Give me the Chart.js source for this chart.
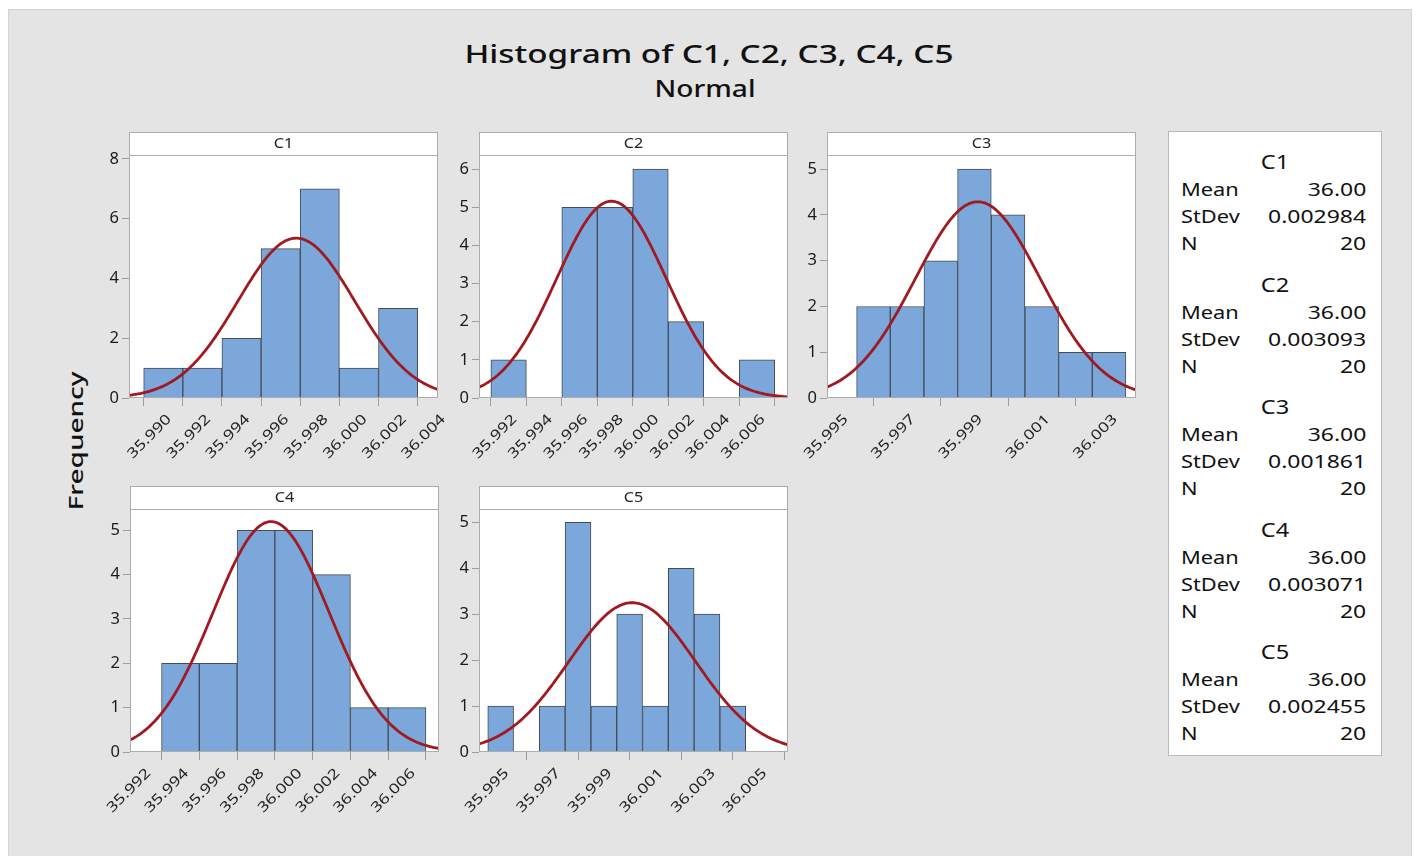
<!DOCTYPE html>
<html>
<head>
<meta charset="utf-8">
<title>Histogram of C1, C2, C3, C4, C5</title>
<script src="https://cdn.jsdelivr.net/npm/chart.js@4.4.1/dist/chart.umd.min.js"></script>
<style>
  html, body { margin: 0; padding: 0; background: #ffffff; width: 1416px; height: 856px; overflow: hidden;
    font-family: 'Noto Sans', 'Open Sans', sans-serif; color: #111; }
  #frame { position: absolute; left: 8px; top: 9px; width: 1402px; height: 860px; background: #e4e4e4; border: 1px solid #d3d3d3; }
  .panel { position: absolute; }
  #title { position: absolute; left: 0; width: 1418px; top: 35px; text-align: center; font-size: 26px; font-weight: 500;
    transform: scaleX(1.28); transform-origin: 709px 0; white-space: nowrap; }
  #subtitle { position: absolute; left: 0; width: 1410px; top: 72px; text-align: center; font-size: 23px; font-weight: 500;
    transform: scaleX(1.22); transform-origin: 705px 0; }
  #ylab { position: absolute; left: 0px; top: 421px; width: 150px; text-align: center; font-size: 28px; font-weight: 500;
    transform: rotate(-90deg) scaleY(0.72); transform-origin: 75px 20px; line-height: 40px; white-space: nowrap; }
  #stats { position: absolute; left: 1168px; top: 131px; width: 212px; height: 623px; background: #fff; border: 1px solid #b9b9b9; }
  .sh { position: absolute; left: 0; width: 212px; text-align: center; font-size: 20.5px; line-height: 24px;
    transform: scaleX(1.15); transform-origin: 106px 0; }
  .sl { position: absolute; left: 12px; font-size: 18.5px; line-height: 24px; transform: scaleX(1.18); transform-origin: 0 0; }
  .sv { position: absolute; right: 15px; font-size: 18.5px; line-height: 24px; text-align: right;
    transform: scaleX(1.24); transform-origin: 100% 0; }
</style>
</head>
<body>
<div id="frame"></div>
<div id="title">Histogram of C1, C2, C3, C4, C5</div>
<div id="subtitle">Normal</div>
<div id="ylab">Frequency</div>
<canvas id="p1" class="panel" width="368" height="349" style="left:84px;top:129px"></canvas>
<canvas id="p2" class="panel" width="368" height="349" style="left:434px;top:129px"></canvas>
<canvas id="p3" class="panel" width="368" height="349" style="left:782px;top:129px"></canvas>
<canvas id="p4" class="panel" width="368" height="349" style="left:85px;top:483px"></canvas>
<canvas id="p5" class="panel" width="368" height="349" style="left:434px;top:483px"></canvas>
<div id="stats"></div>
<script>
// ---- data ----
const seriesNames = ['C1', 'C2', 'C3', 'C4', 'C5'];

// histogram bin midpoints and counts
const c1Bins = [35.990, 35.992, 35.994, 35.996, 35.998, 36.000, 36.002];
const c1Counts = [1, 1, 2, 5, 7, 1, 3];
const c2Bins = [35.992, 35.994, 35.996, 35.998, 36.000, 36.002, 36.004, 36.006];
const c2Counts = [1, 0, 5, 5, 6, 2, 0, 1];
const c3Bins = [35.996, 35.997, 35.998, 35.999, 36.000, 36.001, 36.002, 36.003];
const c3Counts = [2, 2, 3, 5, 4, 2, 1, 1];
const c4Bins = [35.994, 35.996, 35.998, 36.000, 36.002, 36.004, 36.006];
const c4Counts = [2, 2, 5, 5, 4, 1, 1];
const c5Bins = [35.995, 35.996, 35.997, 35.998, 35.999, 36.000, 36.001, 36.002, 36.003, 36.004];
const c5Counts = [1, 0, 1, 5, 1, 3, 1, 4, 3, 1];
const binWidths = [0.002, 0.002, 0.001, 0.002, 0.001];

// fitted normal parameters
const means = [35.9968, 35.9978, 35.9991, 35.9988, 36.0001];
const stdevs = [0.002984, 0.003093, 0.001861, 0.003071, 0.002455];
const counts = [20, 20, 20, 20, 20];
const meanLabels = ['36.00', '36.00', '36.00', '36.00', '36.00'];
const stdevLabels = ['0.002984', '0.003093', '0.001861', '0.003071', '0.002455'];

// tick values
const c1XTicks = [35.990, 35.992, 35.994, 35.996, 35.998, 36.000, 36.002, 36.004];
const c2XTicks = [35.992, 35.994, 35.996, 35.998, 36.000, 36.002, 36.004, 36.006];
const c3XTicks = [35.995, 35.997, 35.999, 36.001, 36.003];
const c4XTicks = [35.992, 35.994, 35.996, 35.998, 36.000, 36.002, 36.004, 36.006];
const c5XTicks = [35.995, 35.997, 35.999, 36.001, 36.003, 36.005];
const c1YTicks = [0, 2, 4, 6, 8];
const c2YTicks = [0, 1, 2, 3, 4, 5, 6];
const c3YTicks = [0, 1, 2, 3, 4, 5];
const c4YTicks = [0, 1, 2, 3, 4, 5];
const c5YTicks = [0, 1, 2, 3, 4, 5];

// ---- panel setup ----
const panels = [
  { id: 'p1', bins: c1Bins, freq: c1Counts, xTicks: c1XTicks, yTicks: c1YTicks, xMin: 35.98825, xMax: 36.00404, yMax: 8.13 },
  { id: 'p2', bins: c2Bins, freq: c2Counts, xTicks: c2XTicks, yTicks: c2YTicks, xMin: 35.99033, xMax: 36.00775, yMax: 6.37 },
  { id: 'p3', bins: c3Bins, freq: c3Counts, xTicks: c3XTicks, yTicks: c3YTicks, xMin: 35.99462, xMax: 36.00380, yMax: 5.31 },
  { id: 'p4', bins: c4Bins, freq: c4Counts, xTicks: c4XTicks, yTicks: c4YTicks, xMin: 35.99133, xMax: 36.00769, yMax: 5.48 },
  { id: 'p5', bins: c5Bins, freq: c5Counts, xTicks: c5XTicks, yTicks: c5YTicks, xMin: 35.99416, xMax: 36.00614, yMax: 5.29 }
];

const FONT = "'Noto Sans', 'Open Sans', sans-serif";

// white plot area, frame, title strip and slanted x labels
const panelDecor = {
  id: 'panelDecor',
  beforeDraw(chart) {
    const { ctx, chartArea: a } = chart;
    ctx.save();
    ctx.fillStyle = '#ffffff';
    ctx.fillRect(a.left, a.top, a.right - a.left, a.bottom - a.top);
    ctx.restore();
  },
  afterDraw(chart, args, opts) {
    const { ctx, chartArea: a } = chart;
    ctx.save();
    ctx.strokeStyle = '#acacac';
    ctx.lineWidth = 1;
    ctx.strokeRect(a.left + 0.5, a.top + 0.5, a.right - a.left - 1, a.bottom - a.top - 1);
    ctx.fillStyle = '#ffffff';
    ctx.fillRect(a.left, a.top - 23, a.right - a.left, 23);
    ctx.strokeRect(a.left + 0.5, a.top - 22.5, a.right - a.left - 1, 23);

    ctx.fillStyle = '#222';
    ctx.font = '13.5px ' + FONT;
    ctx.textAlign = 'center';
    ctx.textBaseline = 'middle';
    ctx.save();
    ctx.translate((a.left + a.right) / 2, a.top - 11);
    ctx.scale(1.2, 1);
    ctx.fillText(opts.name, 0, 0);
    ctx.restore();

    const xs = chart.scales.x;
    ctx.font = '14px ' + FONT;
    ctx.fillStyle = '#222';
    ctx.textAlign = 'right';
    ctx.textBaseline = 'middle';
    opts.ticks.forEach(v => {
      const px = xs.getPixelForValue(v);
      ctx.save();
      ctx.translate(px + 6, a.bottom + 19);
      ctx.rotate(-Math.PI / 4);
      ctx.scale(1.27, 1);
      ctx.fillText(v.toFixed(3), 0, 0);
      ctx.restore();
    });
    ctx.restore();
  }
};

// fitted normal density scaled to counts per bin
function normalCurve(i, xMin, xMax) {
  const pts = [];
  const steps = 200;
  const scale = counts[i] * binWidths[i] / (stdevs[i] * Math.sqrt(2 * Math.PI));
  for (let k = 0; k <= steps; k++) {
    const x = xMin + (xMax - xMin) * k / steps;
    const z = (x - means[i]) / stdevs[i];
    pts.push({ x: x, y: scale * Math.exp(-0.5 * z * z) });
  }
  return pts;
}

panels.forEach((p, i) => {
  new Chart(document.getElementById(p.id), {
    type: 'bar',
    data: {
      datasets: [
        {
          type: 'line',
          data: normalCurve(i, p.xMin, p.xMax),
          borderColor: '#a11a1f',
          borderWidth: 2.8,
          pointRadius: 0,
          tension: 0,
          order: 0
        },
        {
          type: 'bar',
          data: p.bins.map((b, k) => ({ x: b, y: p.freq[k] })),
          backgroundColor: '#7ba7da',
          borderColor: '#464b55',
          borderWidth: ctx => (ctx.raw && ctx.raw.y > 0 ? 1 : 0),
          barPercentage: 1,
          categoryPercentage: 1,
          grouped: false,
          order: 1
        }
      ]
    },
    options: {
      responsive: false,
      devicePixelRatio: 1,
      animation: false,
      events: [],
      layout: { padding: { top: 26, right: 14, left: 0, bottom: 0 } },
      plugins: {
        legend: { display: false },
        tooltip: { enabled: false },
        panelDecor: { name: seriesNames[i], ticks: p.xTicks }
      },
      scales: {
        x: {
          type: 'linear',
          min: p.xMin,
          max: p.xMax,
          offset: false,
          afterBuildTicks: s => { s.ticks = p.xTicks.map(v => ({ value: v })); },
          afterFit: s => { s.height = 80; s.paddingLeft = 0; s.paddingRight = 0; },
          ticks: { display: false, autoSkip: false },
          grid: { display: true, drawOnChartArea: false, drawTicks: true, tickLength: 8, color: '#9c9c9c' },
          border: { display: false }
        },
        y: {
          min: 0,
          max: p.yMax,
          afterBuildTicks: s => { s.ticks = p.yTicks.map(v => ({ value: v })); },
          afterFit: s => { s.width = 45; s.paddingTop = 0; s.paddingBottom = 0; },
          ticks: { color: '#1a1a1a', font: { family: FONT, size: 16.5 }, padding: 3 },
          grid: { display: true, drawOnChartArea: false, drawTicks: true, tickLength: 7, color: '#9c9c9c' },
          border: { display: false }
        }
      }
    },
    plugins: [panelDecor]
  });
});

// statistics box
const stats = document.getElementById('stats');
seriesNames.forEach((name, g) => {
  const base = 29 + g * 122.6;
  const rows = [
    ['sh', name, null, 0],
    ['sl', 'Mean', meanLabels[g], 28],
    ['sl', 'StDev', stdevLabels[g], 55],
    ['sl', 'N', String(counts[g]), 82]
  ];
  rows.forEach(r => {
    const y = base + r[3] - 12;
    const el = document.createElement('div');
    el.className = r[0];
    el.style.top = y + 'px';
    el.textContent = r[1];
    stats.appendChild(el);
    if (r[2] !== null) {
      const v = document.createElement('div');
      v.className = 'sv';
      v.style.top = y + 'px';
      v.textContent = r[2];
      stats.appendChild(v);
    }
  });
});
</script>
</body>
</html>
